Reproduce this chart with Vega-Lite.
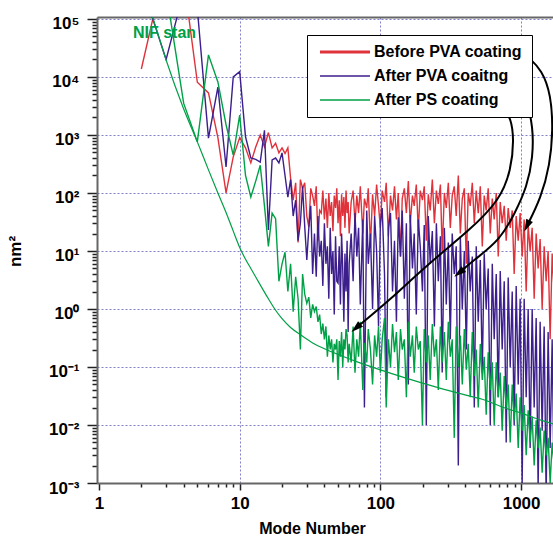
{
  "$schema": "https://vega.github.io/schema/vega-lite/v6.json",
  "width": 456,
  "height": 466,
  "autosize": {"type": "none"},
  "padding": {"left": 97, "top": 17, "right": 0, "bottom": 55},
  "background": "white",
  "config": {"view": {"stroke": null}, "font": "Liberation Sans"},
  "datasets": {
    "before": [
      {"m":2,"v":13700},{"m":3,"v":1000000},{"m":4,"v":500000},{"m":5,"v":8100},{"m":6,"v":5300},{"m":7,"v":900},{"m":8,"v":100},{"m":9,"v":420},{"m":10,"v":900},{"m":11,"v":600},{"m":12,"v":330},{"m":13,"v":620},{"m":14,"v":1000},{"m":15,"v":620},{"m":16,"v":1100},{"m":17,"v":600},{"m":18,"v":720},{"m":19,"v":490},{"m":20,"v":600},{"m":21,"v":480},{"m":22,"v":600},{"m":23,"v":180},{"m":24,"v":75},{"m":25,"v":150},{"m":26,"v":14},{"m":27,"v":170},{"m":28,"v":120},{"m":29,"v":150},{"m":30,"v":40},{"m":31,"v":26},{"m":32,"v":120},{"m":33,"v":90},{"m":34,"v":60},{"m":35,"v":130},{"m":36,"v":15},{"m":37,"v":50},{"m":38,"v":45},{"m":39,"v":110},{"m":40,"v":35},{"m":41,"v":80},{"m":42,"v":25},{"m":43,"v":100},{"m":44,"v":40},{"m":45,"v":70},{"m":46,"v":22},{"m":47,"v":90},{"m":48,"v":55},{"m":49,"v":120},{"m":50,"v":30},{"m":51,"v":75},{"m":52,"v":18},{"m":53,"v":95},{"m":54,"v":40},{"m":55,"v":85},{"m":56,"v":25},{"m":57,"v":110},{"m":58,"v":45},{"m":59,"v":70},{"m":60,"v":20},
      {"m":62,"v":70},{"m":64,"v":110},{"m":66,"v":30},{"m":68,"v":90},{"m":70,"v":45},{"m":72,"v":130},{"m":75,"v":20},{"m":77,"v":80},{"m":80,"v":55},{"m":82,"v":120},{"m":85,"v":12},{"m":88,"v":95},{"m":91,"v":40},{"m":94,"v":140},{"m":97,"v":60},{"m":100,"v":25},{"m":103,"v":110},{"m":107,"v":70},{"m":110,"v":150},{"m":114,"v":18},{"m":118,"v":90},{"m":122,"v":50},{"m":126,"v":130},{"m":130,"v":35},{"m":134,"v":100},{"m":139,"v":8},{"m":143,"v":80},{"m":148,"v":120},{"m":153,"v":45},{"m":158,"v":160},{"m":163,"v":30},{"m":169,"v":90},{"m":174,"v":60},{"m":180,"v":140},{"m":186,"v":22},{"m":192,"v":110},{"m":199,"v":75},{"m":205,"v":130},{"m":212,"v":15},{"m":219,"v":95},{"m":226,"v":50},{"m":234,"v":170},{"m":242,"v":30},{"m":250,"v":110},{"m":258,"v":65},{"m":267,"v":140},{"m":275,"v":10},{"m":285,"v":100},{"m":294,"v":55},{"m":304,"v":150},{"m":314,"v":25},{"m":324,"v":90},{"m":335,"v":130},{"m":346,"v":40},{"m":358,"v":200},{"m":370,"v":20},{"m":382,"v":80},{"m":395,"v":120},{"m":408,"v":6},{"m":421,"v":100},{"m":435,"v":60},{"m":450,"v":150},{"m":465,"v":30},{"m":480,"v":110},{"m":496,"v":45},{"m":513,"v":130},{"m":530,"v":12},{"m":547,"v":90},{"m":565,"v":50},{"m":584,"v":120},{"m":604,"v":20},{"m":624,"v":80},{"m":644,"v":35},{"m":666,"v":100},{"m":688,"v":8},{"m":711,"v":70},{"m":734,"v":30},{"m":759,"v":60},{"m":784,"v":15},{"m":810,"v":55},{"m":837,"v":25},{"m":865,"v":50},{"m":893,"v":4},{"m":923,"v":40},{"m":954,"v":15},{"m":985,"v":45},{"m":1018,"v":8},{"m":1052,"v":35},{"m":1087,"v":2},{"m":1123,"v":28},{"m":1160,"v":10},{"m":1199,"v":25},{"m":1239,"v":1.5},{"m":1280,"v":20},{"m":1322,"v":5},{"m":1366,"v":16},{"m":1412,"v":1},{"m":1459,"v":12},{"m":1507,"v":3},{"m":1557,"v":10},{"m":1609,"v":0.3},{"m":1663,"v":9},{"m":1718,"v":2},{"m":1775,"v":7}
    ],
    "afterPVA": [
      {"m":2,"v":400000},{"m":3,"v":20000},{"m":4,"v":300000},{"m":5,"v":150000},{"m":6,"v":880},{"m":7,"v":6700},{"m":8,"v":280},{"m":9,"v":10000},{"m":10,"v":12300},{"m":11,"v":930},{"m":12,"v":400},{"m":13,"v":380},{"m":14,"v":340},{"m":15,"v":1200},{"m":16,"v":23},{"m":17,"v":370},{"m":18,"v":400},{"m":19,"v":330},{"m":20,"v":490},{"m":21,"v":200},{"m":22,"v":85},{"m":23,"v":170},{"m":24,"v":40},{"m":25,"v":75},{"m":26,"v":15},{"m":27,"v":30},{"m":28,"v":130},{"m":29,"v":26},{"m":30,"v":7},{"m":31,"v":25},{"m":32,"v":60},{"m":33,"v":4},{"m":34,"v":20},{"m":35,"v":3.6},{"m":36,"v":40},{"m":37,"v":8},{"m":38,"v":15},{"m":39,"v":2.5},{"m":40,"v":30},{"m":41,"v":6},{"m":42,"v":12},{"m":43,"v":1.5},{"m":44,"v":25},{"m":45,"v":4},{"m":46,"v":10},{"m":47,"v":0.8},{"m":48,"v":18},{"m":49,"v":3},{"m":50,"v":2.8},{"m":51,"v":12},{"m":52,"v":1.2},{"m":53,"v":20},{"m":54,"v":5},{"m":55,"v":0.6},{"m":56,"v":9},{"m":57,"v":2},{"m":58,"v":15},{"m":59,"v":0.4},{"m":60,"v":6},
      {"m":62,"v":20},{"m":64,"v":3},{"m":66,"v":45},{"m":68,"v":8},{"m":70,"v":25},{"m":72,"v":1.2},{"m":75,"v":35},{"m":77,"v":0.02},{"m":80,"v":50},{"m":82,"v":6},{"m":85,"v":20},{"m":88,"v":1},{"m":91,"v":40},{"m":94,"v":10},{"m":97,"v":0.5},{"m":100,"v":30},{"m":103,"v":55},{"m":107,"v":4},{"m":110,"v":0.03},{"m":114,"v":25},{"m":118,"v":45},{"m":122,"v":2},{"m":126,"v":15},{"m":130,"v":0.6},{"m":134,"v":38},{"m":139,"v":8},{"m":143,"v":50},{"m":148,"v":1.5},{"m":153,"v":30},{"m":158,"v":0.05},{"m":163,"v":42},{"m":169,"v":5},{"m":174,"v":20},{"m":180,"v":0.8},{"m":186,"v":35},{"m":192,"v":12},{"m":199,"v":2},{"m":205,"v":28},{"m":212,"v":0.01},{"m":219,"v":40},{"m":226,"v":6},{"m":234,"v":22},{"m":242,"v":0.5},{"m":250,"v":30},{"m":258,"v":3},{"m":267,"v":18},{"m":275,"v":0.08},{"m":285,"v":25},{"m":294,"v":1.2},{"m":304,"v":14},{"m":314,"v":0.3},{"m":324,"v":20},{"m":335,"v":4},{"m":346,"v":12},{"m":358,"v":0.002},{"m":370,"v":18},{"m":382,"v":1},{"m":395,"v":10},{"m":408,"v":0.2},{"m":421,"v":15},{"m":435,"v":2},{"m":450,"v":8},{"m":465,"v":0.02},{"m":480,"v":12},{"m":496,"v":0.6},{"m":513,"v":7},{"m":530,"v":0.08},{"m":547,"v":9},{"m":565,"v":1},{"m":584,"v":5},{"m":604,"v":0.01},{"m":624,"v":6},{"m":644,"v":0.3},{"m":666,"v":4},{"m":688,"v":0.03},{"m":711,"v":4.5},{"m":734,"v":0.2},{"m":759,"v":3},{"m":784,"v":0.005},{"m":810,"v":3.5},{"m":837,"v":0.1},{"m":865,"v":2},{"m":893,"v":0.01},{"m":923,"v":2.5},{"m":954,"v":0.05},{"m":985,"v":1.5},{"m":1018,"v":0.001},{"m":1052,"v":1.5},{"m":1087,"v":0.03},{"m":1123,"v":1},{"m":1160,"v":0.004},{"m":1199,"v":1},{"m":1239,"v":0.02},{"m":1280,"v":0.7},{"m":1322,"v":0.0008},{"m":1366,"v":0.6},{"m":1412,"v":0.008},{"m":1459,"v":0.5},{"m":1507,"v":0.0006},{"m":1557,"v":0.4},{"m":1609,"v":0.004},{"m":1663,"v":0.3},{"m":1718,"v":0.0008},{"m":1775,"v":0.25}
    ],
    "afterPS": [
      {"m":2,"v":500000},{"m":3,"v":300000},{"m":4,"v":3500},{"m":5,"v":760},{"m":6,"v":24000},{"m":7,"v":8200},{"m":8,"v":1500},{"m":9,"v":450},{"m":10,"v":2200},{"m":11,"v":200},{"m":12,"v":85},{"m":13,"v":160},{"m":14,"v":300},{"m":15,"v":60},{"m":16,"v":12},{"m":17,"v":45},{"m":18,"v":36},{"m":19,"v":3},{"m":20,"v":6},{"m":21,"v":9.5},{"m":22,"v":2},{"m":23,"v":6},{"m":24,"v":0.9},{"m":25,"v":3.6},{"m":26,"v":1.5},{"m":27,"v":0.2},{"m":28,"v":4},{"m":29,"v":1.8},{"m":30,"v":1.25},{"m":31,"v":1.6},{"m":32,"v":0.7},{"m":33,"v":1.2},{"m":34,"v":0.9},{"m":35,"v":1.1},{"m":36,"v":0.6},{"m":37,"v":0.8},{"m":38,"v":0.37},{"m":39,"v":0.56},{"m":40,"v":0.3},{"m":41,"v":0.5},{"m":42,"v":0.15},{"m":43,"v":0.35},{"m":44,"v":0.2},{"m":45,"v":0.3},{"m":46,"v":0.12},{"m":47,"v":0.25},{"m":48,"v":0.2},{"m":49,"v":0.3},{"m":50,"v":0.06},{"m":51,"v":0.28},{"m":52,"v":0.15},{"m":53,"v":0.4},{"m":54,"v":0.1},{"m":55,"v":0.3},{"m":56,"v":0.2},{"m":57,"v":0.45},{"m":58,"v":0.35},{"m":59,"v":0.12},{"m":60,"v":0.25},
      {"m":62,"v":0.12},{"m":64,"v":0.5},{"m":66,"v":0.08},{"m":68,"v":0.3},{"m":70,"v":0.15},{"m":72,"v":0.6},{"m":75,"v":0.04},{"m":77,"v":0.26},{"m":80,"v":0.12},{"m":82,"v":0.45},{"m":85,"v":0.2},{"m":88,"v":0.05},{"m":91,"v":0.35},{"m":94,"v":0.15},{"m":97,"v":0.5},{"m":100,"v":0.08},{"m":103,"v":0.3},{"m":107,"v":0.7},{"m":110,"v":0.02},{"m":114,"v":0.3},{"m":118,"v":0.1},{"m":122,"v":0.55},{"m":126,"v":0.18},{"m":130,"v":0.4},{"m":134,"v":0.06},{"m":139,"v":0.45},{"m":143,"v":0.2},{"m":148,"v":0.3},{"m":153,"v":0.03},{"m":158,"v":0.6},{"m":163,"v":0.15},{"m":169,"v":0.35},{"m":174,"v":0.08},{"m":180,"v":0.5},{"m":186,"v":0.2},{"m":192,"v":0.28},{"m":199,"v":0.01},{"m":205,"v":0.45},{"m":212,"v":0.12},{"m":219,"v":0.35},{"m":226,"v":0.06},{"m":234,"v":0.55},{"m":242,"v":0.15},{"m":250,"v":0.3},{"m":258,"v":0.04},{"m":267,"v":0.5},{"m":275,"v":0.12},{"m":285,"v":0.4},{"m":294,"v":0.06},{"m":304,"v":0.6},{"m":314,"v":0.15},{"m":324,"v":0.3},{"m":335,"v":0.006},{"m":346,"v":0.5},{"m":358,"v":0.1},{"m":370,"v":0.35},{"m":382,"v":0.05},{"m":395,"v":0.45},{"m":408,"v":0.09},{"m":421,"v":0.25},{"m":435,"v":0.03},{"m":450,"v":0.4},{"m":465,"v":0.07},{"m":480,"v":0.2},{"m":496,"v":0.02},{"m":513,"v":0.25},{"m":530,"v":0.06},{"m":547,"v":0.15},{"m":565,"v":0.015},{"m":584,"v":0.18},{"m":604,"v":0.04},{"m":624,"v":0.12},{"m":644,"v":0.01},{"m":666,"v":0.12},{"m":688,"v":0.03},{"m":711,"v":0.08},{"m":734,"v":0.008},{"m":759,"v":0.07},{"m":784,"v":0.02},{"m":810,"v":0.05},{"m":837,"v":0.005},{"m":865,"v":0.05},{"m":893,"v":0.012},{"m":923,"v":0.035},{"m":954,"v":0.004},{"m":985,"v":0.03},{"m":1018,"v":0.008},{"m":1052,"v":0.022},{"m":1087,"v":0.003},{"m":1123,"v":0.018},{"m":1160,"v":0.005},{"m":1199,"v":0.014},{"m":1239,"v":0.002},{"m":1280,"v":0.012},{"m":1322,"v":0.004},{"m":1366,"v":0.009},{"m":1412,"v":0.0015},{"m":1459,"v":0.008},{"m":1507,"v":0.003},{"m":1557,"v":0.006},{"m":1609,"v":0.001},{"m":1663,"v":0.005},{"m":1718,"v":0.002},{"m":1775,"v":0.004}
    ],
    "nif": [
      {"m":2,"v":400000},{"m":2.5,"v":80000},{"m":3,"v":19600},{"m":4,"v":2800},{"m":5,"v":760},{"m":6,"v":250},{"m":7,"v":100},{"m":8,"v":46},{"m":9,"v":22},{"m":10,"v":11.5},{"m":11,"v":7.2},{"m":12,"v":5},{"m":14,"v":2.6},{"m":16,"v":1.5},{"m":18,"v":0.95},{"m":20,"v":0.68},{"m":23,"v":0.48},{"m":27,"v":0.36},{"m":33,"v":0.26},{"m":42,"v":0.196},{"m":55,"v":0.15},{"m":70,"v":0.12},{"m":100,"v":0.089},{"m":150,"v":0.065},{"m":250,"v":0.045},{"m":400,"v":0.033},{"m":550,"v":0.027},{"m":750,"v":0.02},{"m":1000,"v":0.016},{"m":1400,"v":0.012},{"m":1800,"v":0.01}
    ],
    "arrows": [
      {"a":1,"i":1,"m":1119,"v":22100},{"a":1,"i":2,"m":1408,"v":13200},{"a":1,"i":3,"m":1632,"v":4900},{"a":1,"i":4,"m":1686,"v":1220},{"a":1,"i":5,"m":1603,"v":304},{"a":1,"i":6,"m":1384,"v":82},{"a":1,"i":7,"m":1101,"v":27},
      {"a":2,"i":1,"m":905,"v":6730},{"a":2,"i":2,"m":1101,"v":4010},{"a":2,"i":3,"m":1216,"v":1374},{"a":2,"i":4,"m":1216,"v":418},{"a":2,"i":5,"m":1101,"v":127},{"a":2,"i":6,"m":905,"v":45},{"a":2,"i":7,"m":708,"v":15.5},{"a":2,"i":8,"m":463,"v":7.0},{"a":2,"i":9,"m":362,"v":4.18},
      {"a":3,"i":1,"m":743,"v":3040},{"a":3,"i":2,"m":848,"v":1963},{"a":3,"i":3,"m":891,"v":820},{"a":3,"i":4,"m":848,"v":250},{"a":3,"i":5,"m":708,"v":75.7},{"a":3,"i":6,"m":433,"v":23},{"a":3,"i":7,"m":214,"v":5.74},{"a":3,"i":8,"m":117,"v":1.43},{"a":3,"i":9,"m":67.1,"v":0.47}
    ]
  },
  "layer": [
    {
      "encoding": {
        "x": {
          "field": "m", "type": "quantitative",
          "scale": {"type": "log", "domain": [0.968, 1686], "nice": false},
          "axis": {
            "values": [1,2,3,4,5,6,7,8,9,10,20,30,40,50,60,70,80,90,100,200,300,400,500,600,700,800,900,1000],
            "labelExpr": "indexof([1,10,100,1000], datum.value) >= 0 ? '' + datum.value : ''",
            "labelFont": "Liberation Sans", "labelFontWeight": "bold", "labelFontSize": 17, "labelColor": "black",
            "labelPadding": 5, "labelOverlap": false, "labelFlush": false, "labelBound": false,
            "tickSize": {"condition": {"test": "indexof([1,10,100,1000], datum.value) >= 0", "value": 7}, "value": 4},
            "tickColor": "#222", "tickWidth": 1.5,
            "domainColor": "#666", "domainWidth": 2,
            "grid": true, "gridColor": "#8080c8", "gridDash": [2, 2], "gridWidth": 1,
            "gridOpacity": {"condition": {"test": "indexof([10,100,1000], datum.value) >= 0", "value": 1}, "value": 0},
            "title": "Mode Number", "titleFont": "Liberation Sans", "titleFontWeight": "bold", "titleFontSize": 16, "titleColor": "black",
            "titleX": 215, "titleY": 50, "titleAlign": "center", "titleBaseline": "alphabetic"
          }
        },
        "y": {
          "field": "v", "type": "quantitative",
          "scale": {"type": "log", "domain": [0.001, 108000], "nice": false},
          "axis": {
            "values": [0.001,0.002,0.003,0.004,0.005,0.006,0.007,0.008,0.009,0.01,0.02,0.03,0.04,0.05,0.06,0.07,0.08,0.09,0.1,0.2,0.3,0.4,0.5,0.6,0.7,0.8,0.9,1,2,3,4,5,6,7,8,9,10,20,30,40,50,60,70,80,90,100,200,300,400,500,600,700,800,900,1000,2000,3000,4000,5000,6000,7000,8000,9000,10000,20000,30000,40000,50000,60000,70000,80000,90000,100000],
            "labelExpr": "indexof([0.001,0.01,0.1,1,10,100,1000,10000,100000], datum.value) < 0 ? '' : '10' + ['⁻³','⁻²','⁻¹','⁰','¹','²','³','⁴','⁵'][indexof([0.001,0.01,0.1,1,10,100,1000,10000,100000], datum.value)]",
            "labelFont": "Liberation Sans", "labelFontWeight": "bold", "labelFontSize": 17, "labelColor": "black",
            "labelPadding": 8, "labelOffset": 5, "labelOverlap": false, "labelFlush": false, "labelBound": false,
            "tickSize": {"condition": {"test": "indexof([0.001,0.01,0.1,1,10,100,1000,10000,100000], datum.value) >= 0", "value": 10}, "value": 5},
            "tickColor": "#222", "tickWidth": 1.5,
            "domainColor": "#666", "domainWidth": 2,
            "grid": true, "gridColor": "#8080c8", "gridDash": [2, 2], "gridWidth": 1,
            "gridOpacity": {"condition": {"test": "indexof([0.01,0.1,1,10,100,1000,10000,100000], datum.value) >= 0", "value": 1}, "value": 0},
            "title": "nm²", "titleFont": "Liberation Sans", "titleFontWeight": "bold", "titleFontSize": 17, "titleColor": "black",
            "titleX": -77, "titleY": 234, "titleAngle": -90, "titleAlign": "center", "titleBaseline": "alphabetic"
          }
        }
      },
      "layer": [
        {
          "data": {"name": "before"},
          "mark": {"type": "line", "strokeWidth": 1.4, "clip": true},
          "encoding": {
            "color": {
              "datum": "Before PVA coating", "type": "nominal",
              "scale": {"domain": ["Before PVA coating", "After PVA coaitng", "After PS coating"], "range": ["#e0323a", "#3c1e8c", "#00a046"]},
              "legend": {
                "orient": "none", "legendX": 210, "legendY": 18, "title": null, "direction": "vertical",
                "symbolType": "M-1,0H1", "symbolSize": 2500, "symbolStrokeWidth": 2, "symbolOffset": 21,
                "labelFont": "Liberation Sans", "labelFontWeight": "bold", "labelFontSize": 16, "labelColor": "black", "labelLimit": 400,
                "labelExpr": "datum.label + '\u00a0\u00a0\u00a0'",
                "labelOffset": 21, "padding": 9, "rowPadding": 8,
                "strokeColor": "black", "fillColor": "white",
                "encode": {"symbols": {"update": {"strokeWidth": {"signal": "datum.value === 'Before PVA coating' ? 3 : 1.5"}}}}
              }
            }
          }
        },
        {
          "data": {"name": "afterPVA"},
          "mark": {"type": "line", "strokeWidth": 1.4, "clip": true},
          "encoding": {"color": {"datum": "After PVA coaitng", "type": "nominal"}}
        },
        {
          "data": {"name": "afterPS"},
          "mark": {"type": "line", "strokeWidth": 1.4, "clip": true},
          "encoding": {"color": {"datum": "After PS coating", "type": "nominal"}}
        },
        {
          "data": {"name": "arrows"},
          "mark": {"type": "line", "color": "black", "strokeWidth": 2, "interpolate": "basis", "clip": true},
          "encoding": {"detail": {"field": "a", "type": "nominal"}, "order": {"field": "i", "type": "quantitative"}}
        },
        {
          "data": {"values": [{"m": 1101, "v": 27}]},
          "mark": {"type": "point", "shape": "M0,-1L0.6,1L-0.6,1Z", "filled": true, "color": "black", "opacity": 1, "size": 150, "angle": 205}
        },
        {
          "data": {"values": [{"m": 362, "v": 4.18}]},
          "mark": {"type": "point", "shape": "M0,-1L0.6,1L-0.6,1Z", "filled": true, "color": "black", "opacity": 1, "size": 150, "angle": 231}
        },
        {
          "data": {"values": [{"m": 67.1, "v": 0.47}]},
          "mark": {"type": "point", "shape": "M0,-1L0.6,1L-0.6,1Z", "filled": true, "color": "black", "opacity": 1, "size": 150, "angle": 228}
        },
        {
          "data": {"values": [{"m": 1.745, "v": 47000, "t": "NIF stan"}]},
          "mark": {"type": "text", "align": "left", "baseline": "alphabetic", "font": "Liberation Sans", "fontWeight": "bold", "fontSize": 16, "color": "#00a046"},
          "encoding": {"text": {"field": "t", "type": "nominal"}}
        }
      ]
    },
    {
      "data": {"name": "nif"},
      "mark": {"type": "line", "color": "#00a046", "strokeWidth": 1.2, "interpolate": "monotone", "clip": true},
      "encoding": {
        "x": {"field": "m", "type": "quantitative", "scale": {"type": "log", "domain": [0.968, 1686], "nice": false},
          "axis": {"orient": "top", "labels": false, "ticks": false, "grid": false, "title": null, "domainColor": "#666", "domainWidth": 2}},
        "y": {"field": "v", "type": "quantitative", "scale": {"type": "log", "domain": [0.001, 108000], "nice": false}, "axis": null}
      }
    }
  ],
  "resolve": {"axis": {"x": "independent", "y": "independent"}}
}
